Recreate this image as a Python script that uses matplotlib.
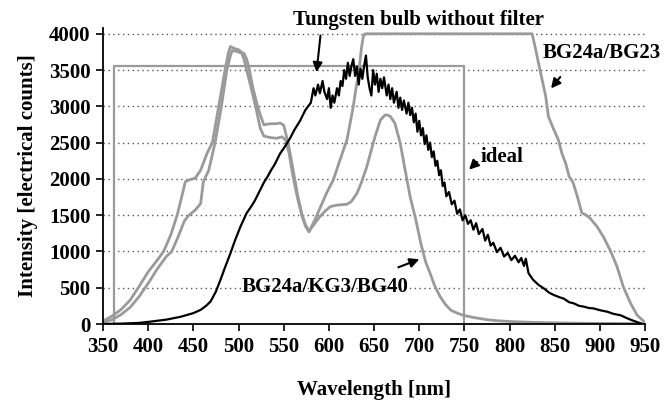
import matplotlib
matplotlib.use("Agg")
import matplotlib.pyplot as plt

plt.rcParams["font.family"] = ["Liberation Serif", "DejaVu Serif"]
plt.rcParams["font.weight"] = "bold"

# ideal filter (box)
ideal_x = [362, 362, 750, 750]
ideal_y = [0, 3550, 3550, 0]

# BG24a/BG23
bg23_x = [350, 360, 370, 380, 390, 400, 410, 417, 425, 432, 438, 441, 446, 452, 458,
          465, 471, 478, 485, 489, 491, 495, 500, 503, 506, 509, 514, 519, 524, 528,
          535, 542, 548, 552, 556, 560, 565, 570, 574, 578, 585, 592, 598, 605, 612,
          620, 624, 627, 630, 633, 636, 638, 640, 825, 829, 832, 836, 840, 843, 849,
          854, 858, 862, 866, 870, 875, 880, 885, 889, 897, 904, 912, 919, 926, 934,
          941, 950]
bg23_y = [40, 110, 200, 330, 520, 720, 880, 1000, 1230, 1500, 1800, 1960, 1990, 2010, 2120,
          2350, 2500, 3000, 3500, 3750, 3825, 3800, 3780, 3750, 3650, 3500, 3250, 2990, 2700, 2590,
          2570, 2560, 2580, 2540, 2350, 2050, 1750, 1500, 1350, 1270, 1450, 1650, 1820, 1990, 2250,
          2540, 2800, 3000, 3250, 3460, 3800, 3960, 4000, 4000, 3780, 3600, 3370, 3140, 2860, 2680,
          2540, 2350, 2220, 2030, 1960, 1760, 1530, 1500, 1460, 1340, 1200, 1000, 790, 510, 285,
          125, 20]

# BG24a/KG3/BG40
kg3_x = [350, 360, 370, 380, 390, 402, 410, 420, 426, 433, 440, 445, 452, 458, 461,
         467, 474, 481, 487, 491, 493, 497, 502, 506, 509, 512, 516, 521, 525, 528,
         535, 541, 546, 550, 555, 560, 565, 570, 574, 578, 584, 590, 596, 602, 610,
         620, 625, 631, 636, 642, 647, 651, 657, 662, 665, 668, 673, 679, 684, 690,
         696, 702, 707, 712, 717, 723, 729, 735, 742, 749, 760, 775, 786, 800, 820,
         841, 870, 900, 950]
kg3_y = [20, 60, 130, 230, 380, 600, 760, 930, 1000, 1200, 1420, 1500, 1570, 1660, 1960,
         2120, 2500, 3000, 3500, 3700, 3770, 3760, 3740, 3730, 3650, 3500, 3250, 3000, 2850, 2745,
         2760, 2760, 2770, 2740, 2490, 2150, 1800, 1520, 1370, 1280, 1380, 1480, 1560, 1620, 1640,
         1650, 1690, 1800, 1950, 2170, 2400, 2580, 2810, 2880, 2880, 2860, 2770, 2490, 2150, 1750,
         1450, 1100, 860, 700, 530, 380, 270, 190, 150, 120, 90, 60, 45, 35, 25,
         18, 12, 8, 5]

# Tungsten bulb without filter
bulb_x = [350, 370, 390, 402, 420, 436, 450, 458, 464, 469, 475, 480, 485, 491, 496,
          502, 506, 509, 514, 518, 524, 528, 532, 536, 540, 546, 551, 557, 562, 568,
          574, 580, 583, 585, 588, 590, 593, 595, 598, 600, 602, 604, 606, 609, 611,
          613, 615, 617, 619, 621, 623, 625, 627, 629, 631, 633, 635, 637, 639, 641,
          643, 645, 647, 649, 651, 653, 655, 657, 659, 661, 664, 666, 668, 670, 672,
          675, 677, 679, 681, 683, 686, 688, 690, 692, 694, 696, 698, 700, 702, 704,
          706, 708, 710, 712, 714, 716, 718, 720, 722, 724, 726, 728, 730, 733, 736,
          739, 742, 745, 748, 751, 754, 757, 760, 763, 766, 770, 773, 776, 779, 782,
          786, 790, 794, 798, 802, 806, 810, 813, 816, 818, 821, 826, 832, 838, 844,
          849, 855, 860, 866, 871, 877, 882, 888, 893, 900, 908, 915, 923, 930, 937,
          945]
bulb_y = [0, 5, 15, 32, 60, 100, 150, 195, 250, 310, 450, 610, 780, 975, 1150,
          1340, 1450, 1530, 1620, 1700, 1850, 1950, 2030, 2120, 2200, 2350, 2440, 2560, 2680, 2800,
          2950, 3050, 3250, 3150, 3300, 3180, 3350, 3200, 3100, 3250, 2980, 3150, 3050, 3250, 3150,
          3350, 3280, 3500, 3380, 3600, 3420, 3560, 3650, 3420, 3550, 3300, 3520, 3380, 3560, 3700,
          3400, 3250, 3150, 3500, 3300, 3450, 3200, 3380, 3250, 3400, 3150, 3300, 3100, 3250, 3050,
          3200, 2980, 3120, 2950, 3080, 2900, 3050, 2880, 2980, 2780, 2900, 2650, 2800, 2600, 2700,
          2480, 2600, 2400, 2500, 2300, 2380, 2180, 2250, 2050, 2120, 1900, 1950, 1760, 1820, 1650,
          1700, 1520, 1580, 1430, 1500, 1380, 1430, 1300, 1390, 1240, 1310, 1150, 1230, 1080, 1120,
          990, 1050, 930, 980, 880, 940, 850, 910, 800, 900, 700, 610, 540, 490, 430,
          400, 370, 350, 300, 285, 250, 240, 220, 215, 190, 170, 140, 120, 80, 45,
          10]

y_ticks = [0, 500, 1000, 1500, 2000, 2500, 3000, 3500, 4000]
x_ticks = [350, 400, 450, 500, 550, 600, 650, 700, 750, 800, 850, 900, 950]

GRAY = "#9a9a9a"
FS = 15

fig = plt.figure(figsize=(6.65, 4.0), dpi=100)
ax = fig.add_axes([0.155, 0.19, 0.815, 0.74])

for yv in y_ticks[1:]:
    ax.axhline(yv, color="#555555", linestyle=(0, (1, 2.5)), linewidth=1.0, zorder=0)

ax.plot(ideal_x, ideal_y, color=GRAY, linewidth=1.6, zorder=2)
ax.plot(bg23_x, bg23_y, color=GRAY, linewidth=2.0, zorder=2)
ax.plot(kg3_x, kg3_y, color=GRAY, linewidth=2.0, zorder=2)
ax.plot(bulb_x, bulb_y, color="black", linewidth=1.6, zorder=3)

ax.set_xlim(350, 950)
ax.set_ylim(0, 4080)
ax.set_xticks(x_ticks)
ax.set_yticks(y_ticks)
ax.tick_params(direction="out", length=5, width=1.2, labelsize=FS, pad=4)
for lab in ax.get_xticklabels() + ax.get_yticklabels():
    lab.set_fontweight("bold")
ax.spines["top"].set_visible(False)
ax.spines["right"].set_visible(False)
ax.spines["left"].set_linewidth(1.3)
ax.spines["bottom"].set_linewidth(1.3)

ax.set_xlabel("Wavelength [nm]", fontsize=FS, fontweight="bold", labelpad=17)
ax.set_ylabel("Intensity [electrical counts]", fontsize=FS, fontweight="bold", labelpad=8)

arrow = dict(arrowstyle="-|>", color="black", lw=1.5, mutation_scale=14)
ax.annotate("", xy=(586, 3434), xytext=(591, 4014), arrowprops=arrow, annotation_clip=False)
ax.text(699, 4193, "Tungsten bulb without filter", ha="center", va="center",
        fontsize=FS, fontweight="bold", clip_on=False)

ax.annotate("", xy=(844, 3218), xytext=(858, 3434), arrowprops=arrow)
ax.text(902, 3731, "BG24a/BG23", ha="center", va="center", fontsize=FS, fontweight="bold")

ax.annotate("", xy=(753, 2100), xytext=(766, 2262), arrowprops=arrow)
ax.text(792, 2297, "ideal", ha="center", va="center", fontsize=FS, fontweight="bold")

ax.annotate("", xy=(703, 906), xytext=(674, 768), arrowprops=arrow)
ax.text(596, 510, "BG24a/KG3/BG40", ha="center", va="center", fontsize=FS, fontweight="bold")

fig.savefig("out.png", dpi=100)
